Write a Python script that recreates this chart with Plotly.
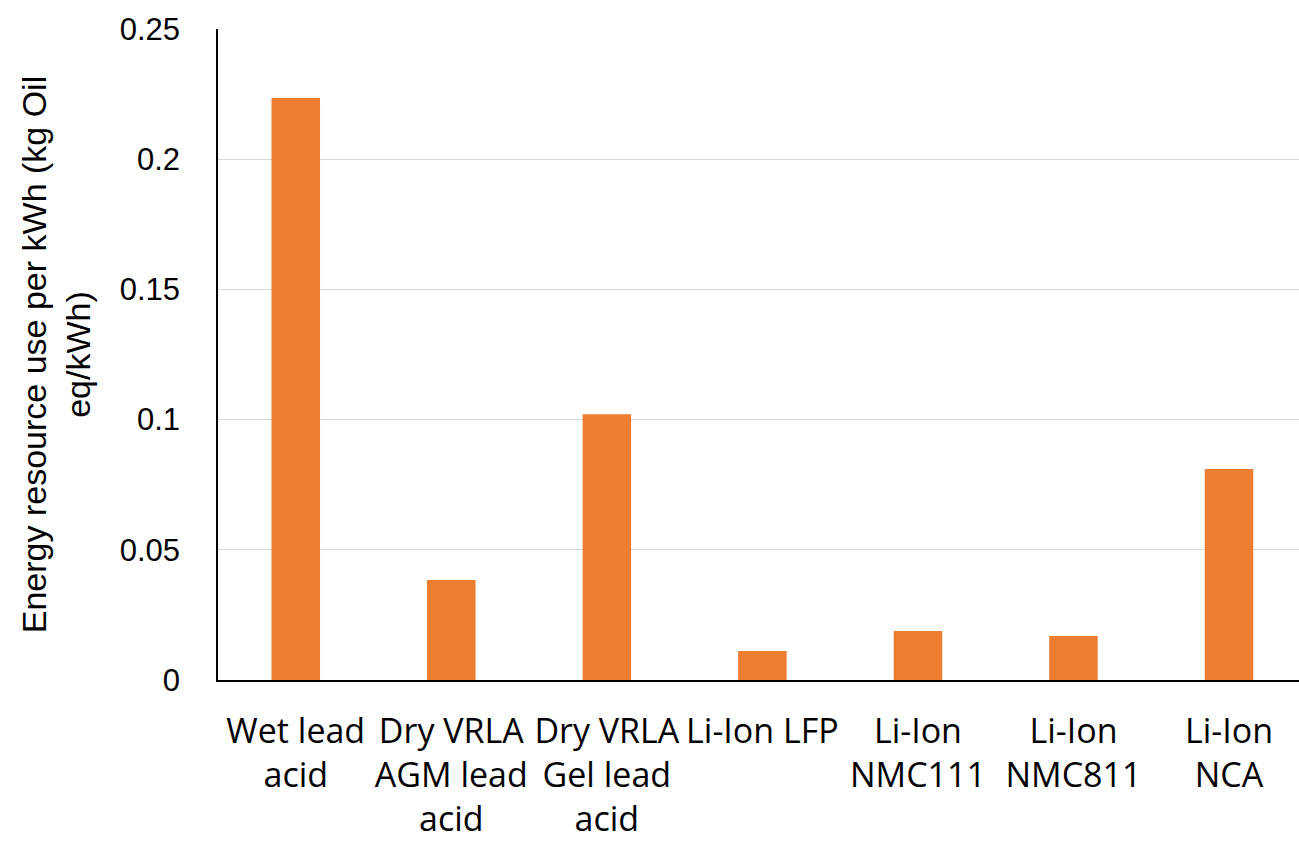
import plotly.graph_objects as go

# Battery chemistries and their energy resource use (kg oil eq per kWh)
categories = [
    "Wet lead<br>acid",
    "Dry VRLA<br>AGM lead<br>acid",
    "Dry VRLA<br>Gel lead<br>acid",
    "Li-Ion LFP",
    "Li-Ion<br>NMC111",
    "Li-Ion<br>NMC811",
    "Li-Ion<br>NCA",
]
energy_use = [0.2235, 0.0384, 0.1021, 0.0111, 0.0188, 0.0169, 0.0810]

y_ticks = [0, 0.05, 0.1, 0.15, 0.2, 0.25]
y_tick_text = ["0", "0.05", "0.1", "0.15", "0.2", "0.25"]

fig = go.Figure(
    go.Bar(
        x=categories,
        y=energy_use,
        marker=dict(color="#ED7D31", line=dict(width=0)),
    )
)

fig.update_layout(
    width=1299,
    height=844,
    margin=dict(l=218, r=0, t=29, b=164),
    paper_bgcolor="white",
    plot_bgcolor="white",
    bargap=0.688,
    showlegend=False,
    font=dict(family="Liberation Sans, Arial, sans-serif", color="#000000"),
)

# the category axis runs slightly past the right edge of the canvas
fig.update_xaxes(
    range=[-0.5, 6.45],
    showline=True,
    linecolor="#000000",
    linewidth=1.5,
    showgrid=False,
    ticks="",
    tickfont=dict(family="Open Sans, sans-serif", size=34, color="#000000"),
    ticklabelstandoff=20,
)

fig.update_yaxes(
    range=[0, 0.25],
    tickvals=y_ticks,
    ticktext=y_tick_text,
    showline=True,
    linecolor="#000000",
    linewidth=1.5,
    showgrid=True,
    gridcolor="#D9D9D9",
    gridwidth=1.2,
    zeroline=False,
    ticks="",
    tickfont=dict(family="Liberation Sans, Arial, sans-serif", size=31, color="#000000"),
    ticklabelstandoff=30,
    title=dict(
        text="Energy resource use per kWh (kg Oil<br>eq/kWh)",
        font=dict(family="Liberation Sans, Arial, sans-serif", size=34, color="#000000"),
        standoff=19,
    ),
)

fig.write_html("out.html")
